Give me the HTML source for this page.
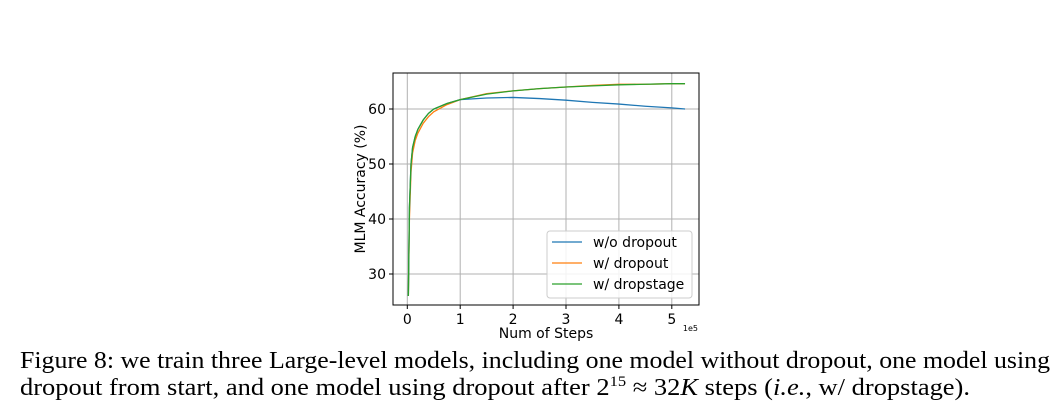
<!DOCTYPE html>
<html><head><meta charset="utf-8"><style>
body{margin:0;background:#fff;width:1064px;height:407px;overflow:hidden}
.sans{font-family:"DejaVu Sans","Liberation Sans",sans-serif}
.serif{font-family:"Liberation Serif","Times New Roman",serif}
</style></head><body>
<svg id="chart" width="1064" height="407">
<g id="grid"></g>
<g id="series"></g>
<rect x="393" y="73" width="306" height="232" fill="none" stroke="#000" stroke-width="1"/>
<g id="ticks" class="sans" font-size="14" fill="#000"></g>
<text class="sans" x="546" y="338" font-size="14" text-anchor="middle">Num of Steps</text>
<text class="sans" x="698" y="331" font-size="8" text-anchor="end">1e5</text>
<text class="sans" transform="translate(365,189) rotate(-90)" font-size="14" text-anchor="middle">MLM Accuracy (%)</text>
<g class="sans">
<rect x="547" y="231" width="145" height="67" rx="3" fill="#fff" fill-opacity="0.85" stroke="#ccc"/>
<g><line x1="552" y1="242" x2="582" y2="242" stroke="#1f77b4" stroke-width="1.3"/><text x="593" y="247" font-size="14">w/o dropout</text></g>
<g><line x1="552" y1="263" x2="582" y2="263" stroke="#ff7f0e" stroke-width="1.3"/><text x="593" y="268" font-size="14">w/ dropout</text></g>
<g><line x1="552" y1="284" x2="582" y2="284" stroke="#2ca02c" stroke-width="1.3"/><text x="593" y="289" font-size="14">w/ dropstage</text></g>
</g>
<g class="serif" font-size="24">
<text class="serif" x="20" y="368" textLength="1030" lengthAdjust="spacingAndGlyphs">Figure 8: we train three Large-level models, including one model without dropout, one model using</text>
<text class="serif" x="20" y="395" textLength="950" lengthAdjust="spacingAndGlyphs">dropout from start, and one model using dropout after 2<tspan dy="-9" font-size="15">15</tspan><tspan dy="9"> ≈ 32</tspan><tspan font-style="italic">K</tspan> steps (<tspan font-style="italic">i.e.</tspan>, w/ dropstage).</text>
</g>
</svg>
<script>
const xTicks=[0,1,2,3,4,5];
const yTicks=[30,40,50,60];
const steps=[0.02,0.04,0.07,0.1,0.15,0.2,0.3,0.4,0.5,0.75,1,1.5,2,2.5,3,3.5,4,4.5,5,5.25];
const woDropout=[26,42,50,53,55,56.3,58,59.2,60,61,61.7,62,62.1,61.9,61.6,61.2,60.9,60.5,60.2,60];
const wDropout=[26,40,48.5,52,54.3,55.6,57.4,58.6,59.5,60.8,61.7,62.8,63.3,63.7,64,64.3,64.5,64.5,64.6,64.6];
const wDropstage=[26,42,50,53,55,56.3,58,59.2,60,61,61.7,62.7,63.3,63.7,64,64.2,64.4,64.5,64.6,64.6];
const sx=v=>407.3+v*52.9, sy=v=>109+(60-v)*5.5;
const NS="http://www.w3.org/2000/svg";
const grid=document.getElementById('grid'),ticks=document.getElementById('ticks'),ser=document.getElementById('series');
function mk(tag,attrs,parent){const e=document.createElementNS(NS,tag);for(const k in attrs)e.setAttribute(k,attrs[k]);parent.appendChild(e);return e;}
xTicks.forEach(t=>{
 const g=mk('line',{x1:sx(t),x2:sx(t),y1:73,y2:305,stroke:'#b0b0b0','stroke-width':1},grid);
 
 
 mk('line',{x1:sx(t),x2:sx(t),y1:305,y2:309,stroke:'#000'},ticks);
 const l=mk('text',{x:sx(t),y:324,'text-anchor':'middle'},ticks);l.textContent=t;
 
 
});
yTicks.forEach(t=>{
 const g=mk('line',{x1:393,x2:699,y1:sy(t),y2:sy(t),stroke:'#b0b0b0','stroke-width':1},grid);
 
 
 mk('line',{x1:389,x2:393,y1:sy(t),y2:sy(t),stroke:'#000'},ticks);
 const l=mk('text',{x:386,y:sy(t)+5,'text-anchor':'end'},ticks);l.textContent=t;
 
 
});
[[wDropout,'#ff7f0e','line-w-dropout'],[woDropout,'#1f77b4','line-wo-dropout'],[wDropstage,'#2ca02c','line-w-dropstage']].forEach(([d,c,n])=>{
 const p=mk('polyline',{points:steps.map((s,i)=>sx(s)+','+sy(d[i])).join(' '),fill:'none',stroke:c,'stroke-width':1.3},ser);
 
 
});
</script>
</body></html>
